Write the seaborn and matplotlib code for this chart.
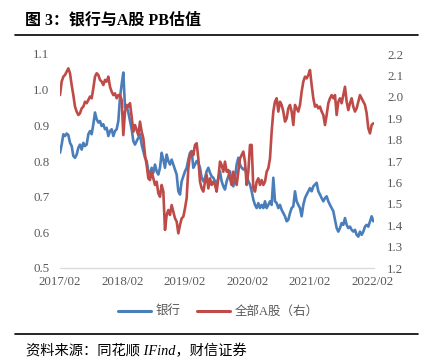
import numpy as np
import pandas as pd
import matplotlib
matplotlib.use("Agg")
import matplotlib.pyplot as plt
import matplotlib.dates as mdates
from matplotlib.lines import Line2D
import seaborn as sns

# ---------------- data ----------------
start_date = "2017-02-01"
end_date = "2022-02-08"

bank_pb = [
    0.823, 0.846, 0.875, 0.870, 0.877, 0.873, 0.851, 0.842, 0.814, 0.809,
    0.818, 0.837, 0.846, 0.832, 0.851, 0.842, 0.846, 0.875, 0.884, 0.875,
    0.903, 0.936, 0.917, 0.908, 0.912, 0.898, 0.903, 0.889, 0.893, 0.870,
    0.884, 0.889, 0.870, 0.884, 0.889, 0.912, 0.978, 1.015, 1.048, 0.950,
    0.954, 0.936, 0.912, 0.889, 0.856, 0.846, 0.856, 0.865, 0.875, 0.846,
    0.828, 0.809, 0.800, 0.771, 0.762, 0.781, 0.767, 0.790, 0.771, 0.762,
    0.781, 0.823, 0.804, 0.781, 0.818, 0.800, 0.790, 0.804, 0.790, 0.776,
    0.762, 0.715, 0.706, 0.743, 0.757, 0.771, 0.781, 0.804, 0.823, 0.828,
    0.781, 0.790, 0.800, 0.795, 0.781, 0.753, 0.743, 0.753, 0.771, 0.781,
    0.767, 0.757, 0.753, 0.743, 0.734, 0.753, 0.771, 0.743, 0.729, 0.720,
    0.743, 0.757, 0.771, 0.743, 0.729, 0.753, 0.790, 0.809, 0.790, 0.781,
    0.776, 0.781, 0.762, 0.743, 0.734, 0.715, 0.692, 0.677, 0.668, 0.682,
    0.668, 0.677, 0.668, 0.687, 0.668, 0.677, 0.687, 0.677, 0.753, 0.687,
    0.682, 0.668, 0.677, 0.663, 0.654, 0.645, 0.631, 0.635, 0.654, 0.668,
    0.673, 0.715, 0.687, 0.677, 0.668, 0.645, 0.677, 0.696, 0.706, 0.715,
    0.724, 0.715, 0.729, 0.734, 0.739, 0.715, 0.706, 0.696, 0.687, 0.696,
    0.701, 0.687, 0.677, 0.668, 0.659, 0.635, 0.612, 0.602, 0.612, 0.626,
    0.621, 0.640, 0.621, 0.612, 0.616, 0.607, 0.602, 0.607, 0.593, 0.588,
    0.602, 0.593, 0.602, 0.616, 0.621, 0.616, 0.631, 0.645, 0.631,
]

a_share_pb = [
    2.008, 2.071, 2.094, 2.102, 2.117, 2.133, 2.110, 2.055, 2.008, 1.954,
    1.931, 1.915, 1.923, 1.946, 1.954, 1.977, 1.970, 1.985, 2.001, 1.993,
    2.040, 2.094, 2.110, 2.102, 2.079, 2.071, 2.055, 2.079, 2.071, 2.094,
    2.047, 2.024, 2.008, 2.016, 1.993, 2.008, 2.008, 1.985, 1.821, 1.931,
    1.962, 1.954, 1.970, 1.907, 1.837, 1.868, 1.845, 1.821, 1.884, 1.837,
    1.806, 1.728, 1.681, 1.619, 1.611, 1.650, 1.619, 1.588, 1.603, 1.549,
    1.533, 1.588, 1.557, 1.378, 1.448, 1.471, 1.448, 1.494, 1.463, 1.432,
    1.417, 1.362, 1.401, 1.432, 1.440, 1.479, 1.526, 1.666, 1.728, 1.744,
    1.728, 1.775, 1.783, 1.712, 1.603, 1.572, 1.557, 1.603, 1.635, 1.572,
    1.619, 1.588, 1.603, 1.588, 1.557, 1.619, 1.697, 1.681, 1.650, 1.697,
    1.650, 1.658, 1.619, 1.588, 1.650, 1.619, 1.588, 1.650, 1.712, 1.728,
    1.744, 1.697, 1.588, 1.650, 1.775, 1.775, 1.572, 1.557, 1.603, 1.619,
    1.588, 1.611, 1.588, 1.603, 1.650, 1.666, 1.712, 1.837, 1.931, 1.977,
    1.993, 1.931, 1.977, 1.962, 1.931, 1.884, 1.899, 1.946, 1.962, 1.931,
    1.868, 1.962, 1.946, 1.931, 1.962, 2.024, 2.071, 2.094, 2.086, 2.102,
    2.125, 2.055, 1.993, 1.954, 1.962, 1.946, 1.954, 1.931, 1.915, 1.868,
    1.915, 1.970, 1.993, 2.008, 1.993, 2.008, 1.915, 1.977, 1.993, 1.970,
    2.008, 2.047, 1.977, 1.938, 1.970, 1.993, 1.954, 1.931, 1.946, 1.977,
    2.008, 1.993, 1.977, 1.962, 1.923, 1.853, 1.829, 1.868, 1.876,
]

tick_dates = ["2017-02-01", "2018-02-01", "2019-02-01",
              "2020-02-01", "2021-02-01", "2022-02-01"]
tick_labels = ["2017/02", "2018/02", "2019/02", "2020/02", "2021/02", "2022/02"]
left_ticks = [0.5, 0.6, 0.7, 0.8, 0.9, 1.0, 1.1]
right_ticks = [1.2, 1.3, 1.4, 1.5, 1.6, 1.7, 1.8, 1.9, 2.0, 2.1, 2.2]
series_names = ["银行", "全部A股（右）"]
title_text = "图 3：银行与A股 PB估值"
source_text = "资料来源：同花顺 IFind，财信证券"

# ---------------- style ----------------
sns.set_style("white")
plt.rcParams["font.family"] = ["Liberation Serif", "Noto Sans CJK SC", "DejaVu Sans"]
plt.rcParams["axes.unicode_minus"] = False

BLUE = "#4A7EBB"
RED = "#BE4B48"
GREY_TXT = "#595959"
AXIS_GREY = "#D9D9D9"

W, H = 425, 361
fig = plt.figure(figsize=(W / 100, H / 100), dpi=100)
fig.patch.set_facecolor("white")

ax = fig.add_axes([60 / W, (H - 268) / H, 314 / W, 214 / H])
ax2 = ax.twinx()

dates = pd.date_range(start_date, end_date, periods=len(bank_pb))
df = pd.DataFrame({"date": dates, "bank": bank_pb, "ashare": a_share_pb})

sns.lineplot(data=df, x="date", y="bank", ax=ax, color=BLUE, linewidth=1.9,
             legend=False)
sns.lineplot(data=df, x="date", y="ashare", ax=ax2, color=RED, linewidth=1.9,
             legend=False)

# axes ranges
ax.set_xlim(pd.Timestamp("2017-02-01"), pd.Timestamp("2022-02-12"))
ax.set_ylim(left_ticks[0], left_ticks[-1])
ax2.set_ylim(right_ticks[0], right_ticks[-1])

ax.set_xticks([pd.Timestamp(d) for d in tick_dates])
ax.set_xticklabels(tick_labels)
ax.set_yticks(left_ticks)
ax.set_yticklabels([f"{v:.1f}" for v in left_ticks])
ax2.set_yticks(right_ticks)
ax2.set_yticklabels([f"{v:.1f}" for v in right_ticks])

for a in (ax, ax2):
    a.set_xlabel("")
    a.set_ylabel("")
    a.grid(False)
    for s in ("top", "left", "right", "bottom"):
        a.spines[s].set_visible(False)
ax.spines["bottom"].set_visible(True)
ax.spines["bottom"].set_color(AXIS_GREY)
ax.spines["bottom"].set_linewidth(0.9)

ax.tick_params(axis="x", direction="out", length=3, width=0.8, color=AXIS_GREY,
               labelcolor=GREY_TXT, labelsize=9.3, pad=3)
ax.tick_params(axis="y", length=0, labelcolor=GREY_TXT, labelsize=9.3, pad=7.5)
ax2.tick_params(axis="y", length=0, labelcolor=GREY_TXT, labelsize=9.3, pad=9.5)

# legend
handles = [Line2D([0], [0], color=BLUE, lw=2.2),
           Line2D([0], [0], color=RED, lw=2.2)]
leg = fig.legend(handles, series_names, loc="center",
                 bbox_to_anchor=(218.5 / W, 1 - 312 / H), ncol=2, frameon=False,
                 fontsize=9, handlelength=2.6, handletextpad=0.4,
                 columnspacing=1.3)
for t in leg.get_texts():
    t.set_color(GREY_TXT)

# title, rules and source
fig.text(25 / W, 1 - 20 / H, title_text, fontsize=11.5, fontweight="bold",
         ha="left", va="center", color="black")
fig.add_artist(Line2D([15 / W, 418 / W], [1 - 34.5 / H, 1 - 34.5 / H],
                      color="black", lw=1.2))
fig.add_artist(Line2D([15 / W, 418 / W], [1 - 334 / H, 1 - 334 / H],
                      color="black", lw=1.2))
fig.text(26 / W, 1 - 351 / H, source_text, fontsize=10.3, style="italic",
         ha="left", va="center", color="black")

fig.savefig("out.png", dpi=100, facecolor="white")
